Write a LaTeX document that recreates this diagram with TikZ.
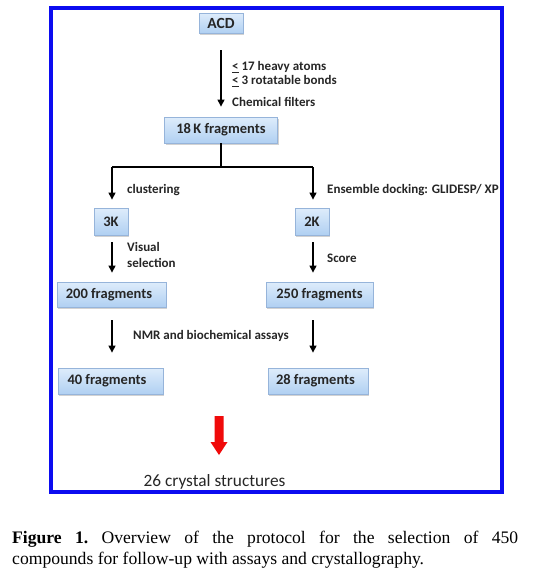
\documentclass[tikz,border=0pt]{standalone}
\usepackage{fontspec}
\setmainfont{Carlito}
\newfontfamily\capfont{Liberation Serif}
\usetikzlibrary{arrows.meta,shadows}
\definecolor{frameblue}{RGB}{12,12,240}
\definecolor{boxtop}{RGB}{222,236,251}
\definecolor{boxbot}{RGB}{176,208,242}
\definecolor{boxline}{RGB}{150,180,218}
\definecolor{redarrow}{RGB}{240,10,10}
\tikzset{
  fbox/.style={draw=boxline, line width=0.8pt, top color=boxtop, bottom color=boxbot,
    drop shadow={shadow xshift=1.2pt, shadow yshift=-1.5pt, opacity=0.35},
    inner sep=0pt, font=\bfseries\fontsize{14.5}{16}\selectfont, text=black!85},
  lbl/.style={anchor=west, inner sep=0pt, font=\bfseries\fontsize{13}{15}\selectfont, text=black!85, align=left},
  conn/.style={line width=1.1pt, -{Triangle[width=7pt,length=7pt]}},
  plain/.style={line width=1.1pt}
}
\begin{document}
\begin{tikzpicture}[x=1pt,y=-1pt]
\useasboundingbox (0,0) rectangle (547,579);
\fill[white] (0,0) rectangle (547,579);
\draw[frameblue, line width=4.5pt] (51,8) rectangle (502,492);

% boxes
\node[fbox, minimum width=44pt, minimum height=20pt, font=\bfseries\fontsize{15.5}{17}\selectfont] (acd) at (221,23) {ACD};
\node[fbox, minimum width=113pt, minimum height=26pt] (k18) at (221,130) {18\,K fragments};
\node[fbox, minimum width=34pt, minimum height=27pt] (k3) at (111,221.5) {3K};
\node[fbox, minimum width=34pt, minimum height=27pt] (k2) at (312,221.5) {2K};
\node[fbox, minimum width=109pt, minimum height=25pt] (f200) at (111.5,294.5) {\hspace*{-5pt}200 fragments};
\node[fbox, minimum width=107pt, minimum height=25pt] (f250) at (319.5,294.5) {250 fragments};
\node[fbox, minimum width=105pt, minimum height=26pt] (f40) at (110.5,381) {\hspace*{-7pt}40 fragments};
\node[fbox, minimum width=100pt, minimum height=26pt] (f28) at (318,381) {\hspace*{-5pt}28 fragments};

% coordinates
\coordinate (fork) at (221,167);
\coordinate (fl) at (112,167);
\coordinate (fr) at (313,167);

% connectors
\draw[conn, shorten <=17pt, shorten >=10pt] (acd) -- (k18);
\draw[plain] (k18.south) -- (fork);
\draw[plain] (fl) -- (fr);
\draw[conn, shorten >=8pt] (fl) -- (fl |- k3.north);
\draw[conn, shorten >=8pt] (fr) -- (fr |- k2.north);
\draw[conn, shorten <=7pt, shorten >=9pt] (fl |- k3.south) -- (fl |- f200.north);
\draw[conn, shorten <=7pt, shorten >=9pt] (fr |- k2.south) -- (fr |- f250.north);
\draw[conn, shorten <=13pt, shorten >=15pt] (fl |- f200.south) -- (fl |- f40.north);
\draw[conn, shorten <=13pt, shorten >=15pt] (fr |- f250.south) -- (fr |- f28.north);

% labels
\node[lbl] (l1) at (232,67) {\underline{<} 17 heavy atoms};
\node[lbl] (l2) at (232,81) {\underline{<} 3 rotatable bonds};
\node[lbl] (l3) at (232,102) {Chemical filters};
\node[lbl] (lc) at (127,190) {clustering};
\node[lbl] (le) at (327,190) {Ensemble docking: GLIDESP/ XP};
\node[lbl, font=\bfseries\fontsize{13}{16}\selectfont] (lv) at (127,255) {Visual\\selection};
\node[lbl] (ls) at (327,258) {Score};
\node[lbl] (ln) at (133,336) {NMR and biochemical assays};

% red arrow
\fill[redarrow] (214.5,416) -- (223.5,416) -- (223.5,442) -- (227.5,442) -- (219,455) -- (210.5,442) -- (214.5,442) -- cycle;
\node[inner sep=0pt, font=\fontsize{17.3}{20}\selectfont, text=black!85] (cs) at (214.5,482) {26 crystal structures};

% caption
\node[anchor=base west, inner sep=0pt, font=\capfont\frenchspacing\fontsize{17.6}{21}\selectfont] (cap1) at (12,543)
  {\makebox[506pt][s]{\textbf{Figure 1.} Overview of the protocol for the selection of 450}};
\node[anchor=base west, inner sep=0pt, font=\capfont\fontsize{17.6}{21}\selectfont] (cap2) at (12,564)
  {compounds for follow-up with assays and crystallography.};
\end{tikzpicture}
\end{document}
